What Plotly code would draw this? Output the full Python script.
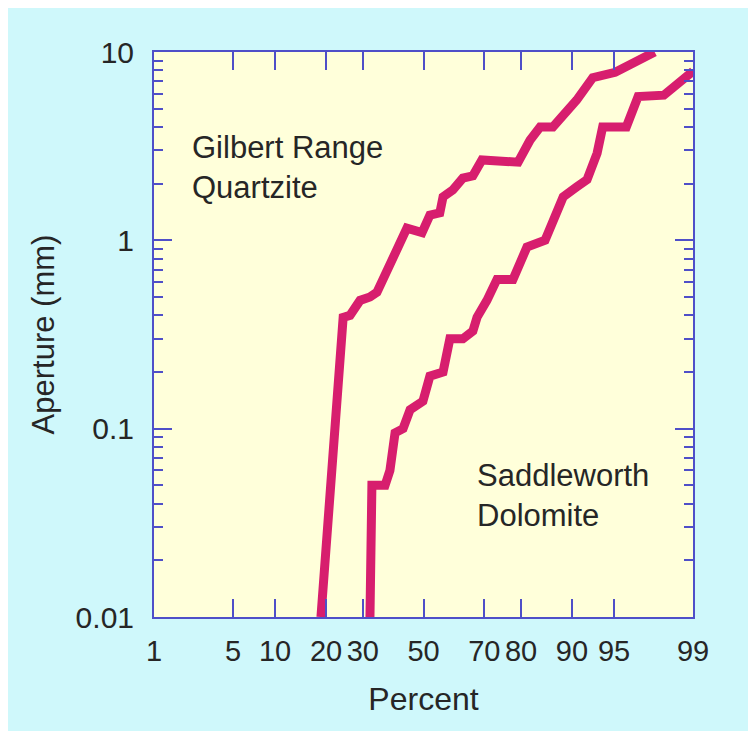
import plotly.graph_objects as go
from statistics import NormalDist

# ---- data ----
gilbert_pct = [18.8, 24.4, 26.3, 29.2, 32.2, 34.4, 44.3, 49.5, 52.2, 55.6, 56.7, 60.0, 63.3,
               66.5, 69.3, 79.3, 82.1, 84.3, 86.8, 90.7, 92.8, 95.1, 97.7]
gilbert_ap = [0.01, 0.39, 0.40, 0.48, 0.50, 0.53, 1.16, 1.10, 1.36, 1.40, 1.70, 1.85, 2.14,
              2.20, 2.67, 2.60, 3.40, 4.00, 4.00, 5.56, 7.30, 7.80, 10.0]

saddle_pct = [32.2, 32.8, 37.0, 38.6, 40.3, 43.0, 45.4, 49.8, 52.2, 56.7, 59.0, 63.3, 66.5,
              67.8, 70.8, 73.7, 78.0, 81.4, 85.3, 87.2, 88.6, 90.7, 92.1, 93.3, 93.9, 96.0,
              96.8, 98.1, 98.93, 99.0]
saddle_ap = [0.01, 0.05, 0.05, 0.06, 0.095, 0.10, 0.126, 0.14, 0.19, 0.20, 0.30, 0.30, 0.33,
             0.39, 0.48, 0.62, 0.62, 0.92, 1.00, 1.40, 1.70, 1.92, 2.10, 2.90, 4.00, 4.00,
             5.80, 5.90, 7.70, 7.90]

x_ticks_pct = [1, 5, 10, 20, 30, 50, 70, 80, 90, 95, 99]
x_tick_text = ["1", "5", "10", "20", "30", "50", "70", "80", "90", "95", "99"]
y_ticks = [0.01, 0.1, 1, 10]
y_tick_text = ["0.01", "0.1", "1", "10"]

nd = NormalDist()
def probit(pcts):
    return [nd.inv_cdf(p / 100.0) for p in pcts]

LINE = "#D71E6E"
AXC = "#4F4FC8"
TXT = "#262626"
FONT = "Liberation Sans"

fig = go.Figure()
fig.add_trace(go.Scatter(x=probit(gilbert_pct), y=gilbert_ap, mode="lines",
                         line=dict(color=LINE, width=9), cliponaxis=True, showlegend=False))
fig.add_trace(go.Scatter(x=probit(saddle_pct), y=saddle_ap, mode="lines",
                         line=dict(color=LINE, width=9), cliponaxis=True, showlegend=False))

L, R, T, B = 154, 693, 52, 617
W, H = 756, 739
pw, ph = R - L, B - T
def px(x):
    return (x - L) / pw
def py(y):
    return (B - y) / ph

minor_vals = [m * d for d in (0.01, 0.1, 1) for m in range(2, 10)]

fig.update_layout(
    width=W, height=H,
    margin=dict(l=L, r=W - R, t=T, b=H - B, pad=0),
    paper_bgcolor="white",
    plot_bgcolor="rgba(0,0,0,0)",
    font=dict(family=FONT, size=30, color=TXT),
    shapes=[
        dict(type="rect", xref="paper", yref="paper", x0=px(8), x1=px(748), y0=py(731), y1=py(8),
             fillcolor="#CFF8FB", line=dict(width=0), layer="below"),
        dict(type="rect", xref="paper", yref="paper", x0=0, x1=1, y0=0, y1=1,
             fillcolor="#FFFFDA", line=dict(width=0), layer="below"),
    ],
    xaxis=dict(
        range=[nd.inv_cdf(0.01), nd.inv_cdf(0.99)],
        tickvals=probit(x_ticks_pct), ticktext=x_tick_text, tickangle=0,
        ticks="inside", ticklen=18, tickwidth=2, tickcolor=AXC,
        showline=True, linecolor=AXC, linewidth=2, mirror="ticks",
        showgrid=False, zeroline=False,
        tickfont=dict(size=29, color=TXT), ticklabelstandoff=7,
        title=dict(text="Percent", font=dict(size=32, color=TXT), standoff=22),
    ),
    yaxis=dict(
        type="log", range=[-2, 1],
        tickvals=y_ticks, ticktext=y_tick_text,
        ticks="inside", ticklen=18, tickwidth=2, tickcolor=AXC,
        showline=True, linecolor=AXC, linewidth=2, mirror="ticks",
        showgrid=False, zeroline=False,
        minor=dict(tickvals=minor_vals, ticks="inside", ticklen=9, tickwidth=2,
                   tickcolor=AXC, showgrid=False),
        tickfont=dict(size=30, color=TXT), ticklabelstandoff=12,
        title=dict(text="Aperture (mm)", font=dict(size=31, color=TXT), standoff=12),
    ),
    annotations=[
        dict(text="Gilbert Range<br>Quartzite", xref="paper", yref="paper",
             x=px(190), y=py(128), xanchor="left", yanchor="top", align="left",
             showarrow=False, font=dict(size=31, color=TXT)),
        dict(text="Saddleworth<br>Dolomite", xref="paper", yref="paper",
             x=px(475), y=py(456), xanchor="left", yanchor="top", align="left",
             showarrow=False, font=dict(size=31, color=TXT)),
    ],
)

fig.write_html("out.html")
